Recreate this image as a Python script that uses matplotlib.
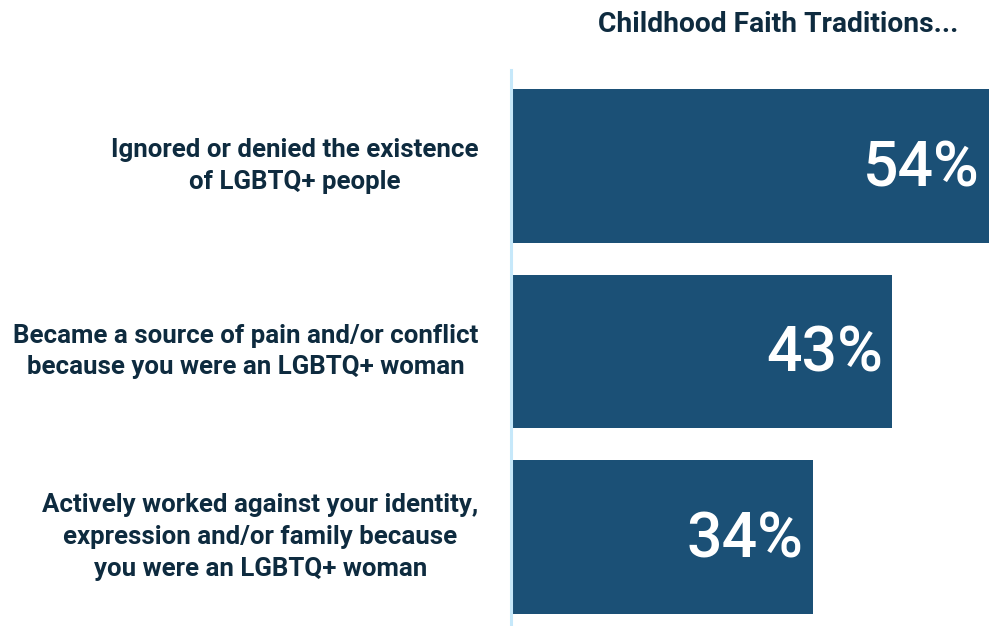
import matplotlib
matplotlib.use("Agg")
import matplotlib.pyplot as plt

categories = [
    "Ignored or denied the existence\nof LGBTQ+ people",
    "Became a source of pain and/or conflict\nbecause you were an LGBTQ+ woman",
    "Actively worked against your identity,\nexpression and/or family because\nyou were an LGBTQ+ woman",
]
values = [54, 43, 34]
title = "Childhood Faith Traditions..."

bar_color = "#1b5076"
text_color = "#0e2b3f"
axis_color = "#c6e8fa"

plt.rcParams["font.family"] = ["Roboto", "DejaVu Sans"]

fig = plt.figure(figsize=(9.89, 6.26), dpi=100)
ax = fig.add_axes([513 / 989, 0, 1 - 513 / 989, (626 - 70) / 626])

pos = list(range(len(values)))
ax.barh(pos, values, height=0.83, color=bar_color)
ax.set_xlim(0, max(values))
ax.set_ylim(2.48, -0.518)

for p, v in zip(pos, values):
    ax.annotate(f"{v}%", xy=(v, p), xytext=(-6.5, -2.5), textcoords="offset points",
                ha="right", va="center", color="white", fontsize=45,
                fontweight="medium")

for p, c in zip(pos, categories):
    ax.annotate(c, xy=(0, p), xytext=(-25, 0), textcoords="offset points",
                ha="right", va="center", multialignment="center",
                color=text_color, fontsize=18.6, fontweight="bold",
                linespacing=1.4, annotation_clip=False)

fig.text(778 / 989, 1 - 25 / 626, title, ha="center", va="center",
         color=text_color, fontsize=20.3, fontweight="bold")

for s in ["top", "right", "bottom"]:
    ax.spines[s].set_visible(False)
ax.spines["left"].set_color(axis_color)
ax.spines["left"].set_linewidth(2.2)
ax.spines["left"].set_position(("outward", 1.5))
ax.set_xticks([])
ax.set_yticks([])
ax.patch.set_alpha(0)

fig.savefig("out.png", dpi=100)
